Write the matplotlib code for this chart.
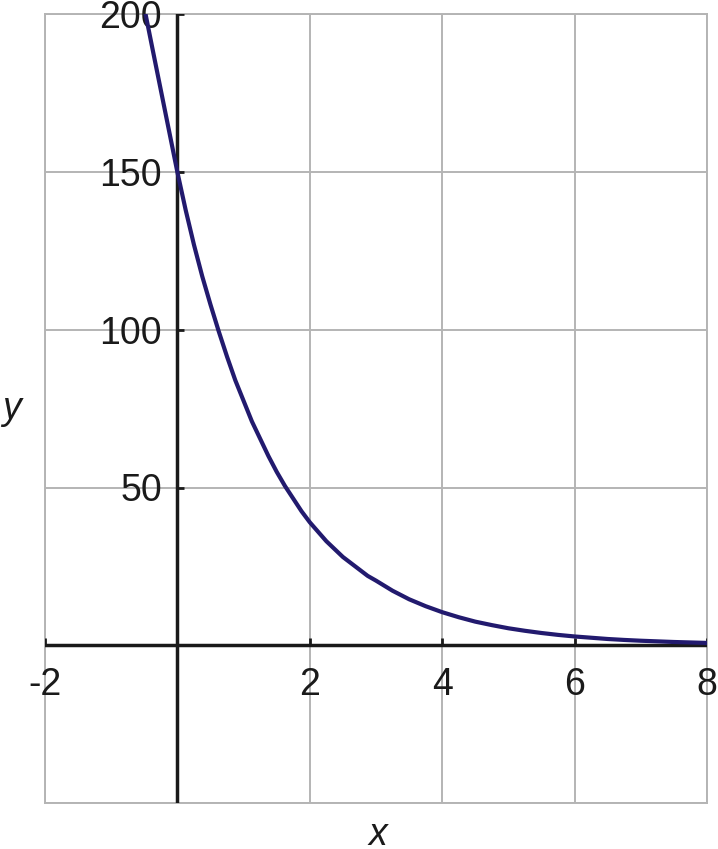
import matplotlib
matplotlib.use("Agg")
import matplotlib.pyplot as plt

# curve readings (x, y)
curve_x = [-0.48, -0.375, -0.25, -0.125, 0, 0.125, 0.25, 0.375, 0.5, 0.625,
           0.75, 0.875, 1, 1.125, 1.25, 1.375, 1.5, 1.625, 1.75, 1.875,
           2, 2.125, 2.25, 2.375, 2.5, 2.625, 2.75, 2.875, 3, 3.25,
           3.5, 3.75, 4, 4.25, 4.5, 4.75, 5, 5.25, 5.5, 5.75,
           6, 6.25, 6.5, 6.75, 7, 7.25, 7.5, 7.75, 8]
curve_y = [200, 189, 176, 163, 150, 138, 127, 117, 108, 99.5,
           91.5, 84, 77.5, 71, 65.5, 60, 55, 50.5, 46.5, 42.5,
           39, 36, 33, 30.5, 28, 26, 24, 22, 20.5, 17.3,
           14.6, 12.4, 10.5, 8.9, 7.5, 6.4, 5.4, 4.6, 3.9, 3.3,
           2.8, 2.4, 2.0, 1.7, 1.45, 1.25, 1.05, 0.9, 0.75]

grid_x = [-2, 0, 2, 4, 6, 8]
grid_y = [-50, 0, 50, 100, 150, 200]
xtick_vals = [-2, 2, 4, 6, 8]
ytick_vals = [50, 100, 150, 200]

W, H = 718, 849
plt.rcParams["font.family"] = ["Liberation Sans", "DejaVu Sans"]
fig = plt.figure(figsize=(W / 100, H / 100), dpi=100)
left, right, top, bottom = 45, 707, 14.5, 803
ax = fig.add_axes([left / W, 1 - bottom / H, (right - left) / W, (bottom - top) / H])
ax.set_xlim(-2, 8)
ax.set_ylim(-50, 200)

GRAY = "#b4b4b4"
INK = "#1a1a1a"
for s in ax.spines.values():
    s.set_color(GRAY)
    s.set_linewidth(1.4)
ax.set_xticks(grid_x)
ax.set_yticks(grid_y)
ax.tick_params(length=0, labelbottom=False, labelleft=False)
ax.grid(True, color=GRAY, linewidth=1.4)
ax.set_axisbelow(True)

ax.axhline(0, color=INK, lw=2.5, zorder=3)
ax.axvline(0, color=INK, lw=2.5, zorder=3)

# small tick marks on the axis lines (7 px long, inward)
px_x = 10 / (right - left)
px_y = 250 / (bottom - top)
ax.hlines(ytick_vals, 0, 7 * px_x, color=INK, lw=2, zorder=3)
ax.vlines(xtick_vals, 0, 7 * px_y, color=INK, lw=2, zorder=3)

ax.plot(curve_x, curve_y, color="#221a6e", lw=3.0, zorder=4,
        solid_joinstyle="round", clip_on=True)

fs = 27
for v in ytick_vals:
    ax.annotate(str(v), (0, v), xytext=(-11, -9.8), textcoords="offset points",
                ha="right", va="baseline", fontsize=fs, color=INK)
for v in xtick_vals:
    ax.annotate(str(v), (v, 0), xytext=(0, -35.5), textcoords="offset points",
                ha="center", va="baseline", fontsize=fs, color=INK,
                annotation_clip=False)

fig.text(11 / W, 1 - 419 / H, "y", style="italic", fontsize=fs, color=INK,
         ha="center", va="baseline")
fig.text(378 / W, 1 - 845 / H, "x", style="italic", fontsize=fs, color=INK,
         ha="center", va="baseline")

fig.savefig("out.png", dpi=100, facecolor="white")
